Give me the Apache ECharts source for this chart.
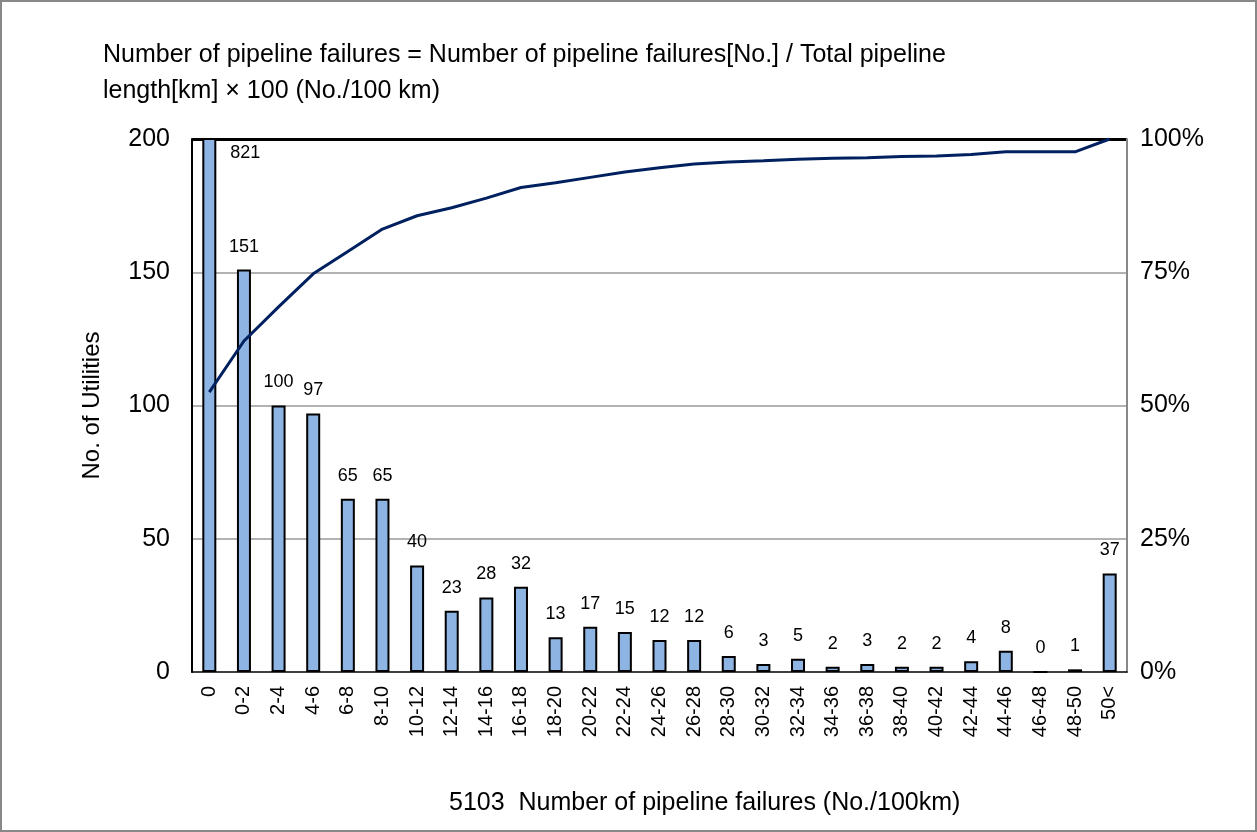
<!DOCTYPE html>
<html>
<head>
<meta charset="utf-8">
<script src="https://cdn.jsdelivr.net/npm/echarts@6/dist/echarts.min.js"></script>
<style>
  html, body { margin: 0; padding: 0; background: #fff; }
  #chart { width: 1257px; height: 832px; }
</style>
</head>
<body>
<div id="chart"></div>
<script>
// categories (No./100km)
const categories = ['0', '0-2', '2-4', '4-6', '6-8', '8-10', '10-12', '12-14', '14-16', '16-18',
  '18-20', '20-22', '22-24', '24-26', '26-28', '28-30', '30-32', '32-34', '34-36', '36-38',
  '38-40', '40-42', '42-44', '44-46', '46-48', '48-50', '50<'];
// number of utilities
const utilities = [821, 151, 100, 97, 65, 65, 40, 23, 28, 32, 13, 17, 15, 12, 12, 6, 3, 5, 2, 3, 2, 2, 4, 8, 0, 1, 37];
// cumulative share (%)
const cumulative = [52.5, 62.1, 68.5, 74.7, 78.9, 83.1, 85.6, 87.1, 88.9, 90.9, 91.8, 92.8, 93.8, 94.6,
  95.3, 95.7, 95.9, 96.2, 96.4, 96.5, 96.7, 96.8, 97.1, 97.6, 97.6, 97.6, 100];

const FONT = '"Liberation Sans", Arial, sans-serif';

const chart = echarts.init(document.getElementById('chart'));

// first bar runs off the axis, its label sits beside the bar
const barData = utilities.map((v, i) => {
  if (i === 0) {
    return { value: v, label: { position: [28, 6] } };
  }
  return v;
});

const option = {
  animation: false,
  backgroundColor: '#fff',
  textStyle: { fontFamily: FONT },
  title: [{
    text: 'Number of pipeline failures = Number of pipeline failures[No.] / Total pipeline\nlength[km] \u00d7 100 (No./100 km)',
    left: 98,
    top: 32,
    textStyle: { fontFamily: FONT, fontSize: 25, fontWeight: 'normal', color: '#000', lineHeight: 36 }
  }, {
    text: '5103  Number of pipeline failures (No./100km)',
    left: 444,
    top: 786,
    textStyle: { fontFamily: FONT, fontSize: 25, fontWeight: 'normal', color: '#000' }
  }],
  graphic: [{
    type: 'rect',
    shape: { x: 1, y: 1, width: 1255, height: 830 },
    style: { fill: 'none', stroke: '#888', lineWidth: 2 },
    silent: true
  }],
  grid: { left: 192, right: 130, top: 139, bottom: 160 },
  xAxis: {
    type: 'category',
    data: categories,
    axisLine: { lineStyle: { color: '#000', width: 1.5 } },
    axisTick: { show: false },
    axisLabel: { rotate: 90, margin: 14, fontSize: 20, color: '#000', fontFamily: FONT }
  },
  yAxis: [{
    type: 'value',
    min: 0,
    max: 200,
    interval: 50,
    name: 'No. of Utilities',
    nameLocation: 'middle',
    nameGap: 88,
    nameRotate: 90,
    nameTextStyle: { fontSize: 24, color: '#000', fontFamily: FONT },
    axisLine: { show: true, lineStyle: { color: '#000', width: 2 } },
    axisTick: { show: false },
    axisLabel: { margin: 22, fontSize: 25, color: '#000', fontFamily: FONT },
    splitLine: { lineStyle: { color: ['transparent', '#999', '#999', '#999', 'transparent'], width: 1.5 } }
  }, {
    type: 'value',
    min: 0,
    max: 100,
    interval: 25,
    axisLine: { show: true, lineStyle: { color: '#888', width: 2 } },
    axisTick: { show: false },
    axisLabel: { margin: 13, fontSize: 25, color: '#000', fontFamily: FONT, formatter: '{value}%' },
    splitLine: { show: true, lineStyle: { color: ['transparent', 'transparent', 'transparent', 'transparent', '#000'], width: 3 } }
  }],
  series: [{
    name: 'Utilities',
    type: 'bar',
    data: barData,
    barWidth: 14,
    itemStyle: { color: '#8DB4E2', borderColor: '#000', borderWidth: 2 },
    label: { show: true, position: 'top', distance: 14, fontSize: 18, color: '#000', fontFamily: FONT }
  }, {
    name: 'Cumulative',
    type: 'line',
    yAxisIndex: 1,
    data: cumulative,
    symbol: 'none',
    lineStyle: { color: '#002060', width: 3 },
    z: 3
  }]
};

chart.setOption(option);
</script>
</body>
</html>
